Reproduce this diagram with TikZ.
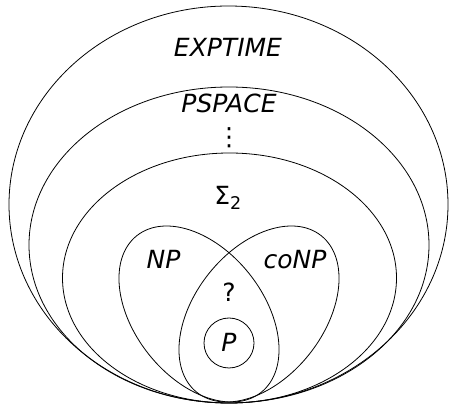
\documentclass[tikz,border=0pt]{standalone}
\usepackage{fontspec}
\setmainfont{DejaVu Sans}
\begin{document}
\begin{tikzpicture}[x=1pt,y=1pt,line width=0.8pt,
  lbl/.style={font=\fontsize{25}{30}\selectfont\itshape, inner sep=0pt, anchor=base},
  rom/.style={font=\fontsize{25}{30}\selectfont, inner sep=0pt, anchor=base}]
\useasboundingbox (0,0) rectangle (449,406);
% classes (y-up: Y = 406 - y_image)
\draw (228.5,201.5) ellipse [x radius=219.5pt, y radius=198.5pt];
\draw (229,161) ellipse [x radius=200pt, y radius=158pt];
\draw (229.5,128) ellipse [x radius=167pt, y radius=125pt];
\draw[rotate around={-51.6:(199,92)}] (199,92) ellipse [x radius=100pt, y radius=64.4pt];
\draw[rotate around={51.6:(259,92)}] (259,92) ellipse [x radius=100pt, y radius=64.4pt];
\draw (229,63) circle [radius=25pt];
% labels
\node[lbl] (exptime) at (228,349) {EXPTIME};
\node[lbl] (pspace) at (229,293) {PSPACE};
\node[rom, anchor=center] (dots) at (229,268.5) {⋮};
\node[rom] (sigma) at (228,201) {Σ\textsubscript{2}};
\node[lbl] (np) at (163.5,137) {NP};
\node[lbl] (conp) at (295,137) {coNP};
\node[rom] (q) at (229,104) {?};
\node[lbl] (p) at (229,54) {P};
\end{tikzpicture}
\end{document}
